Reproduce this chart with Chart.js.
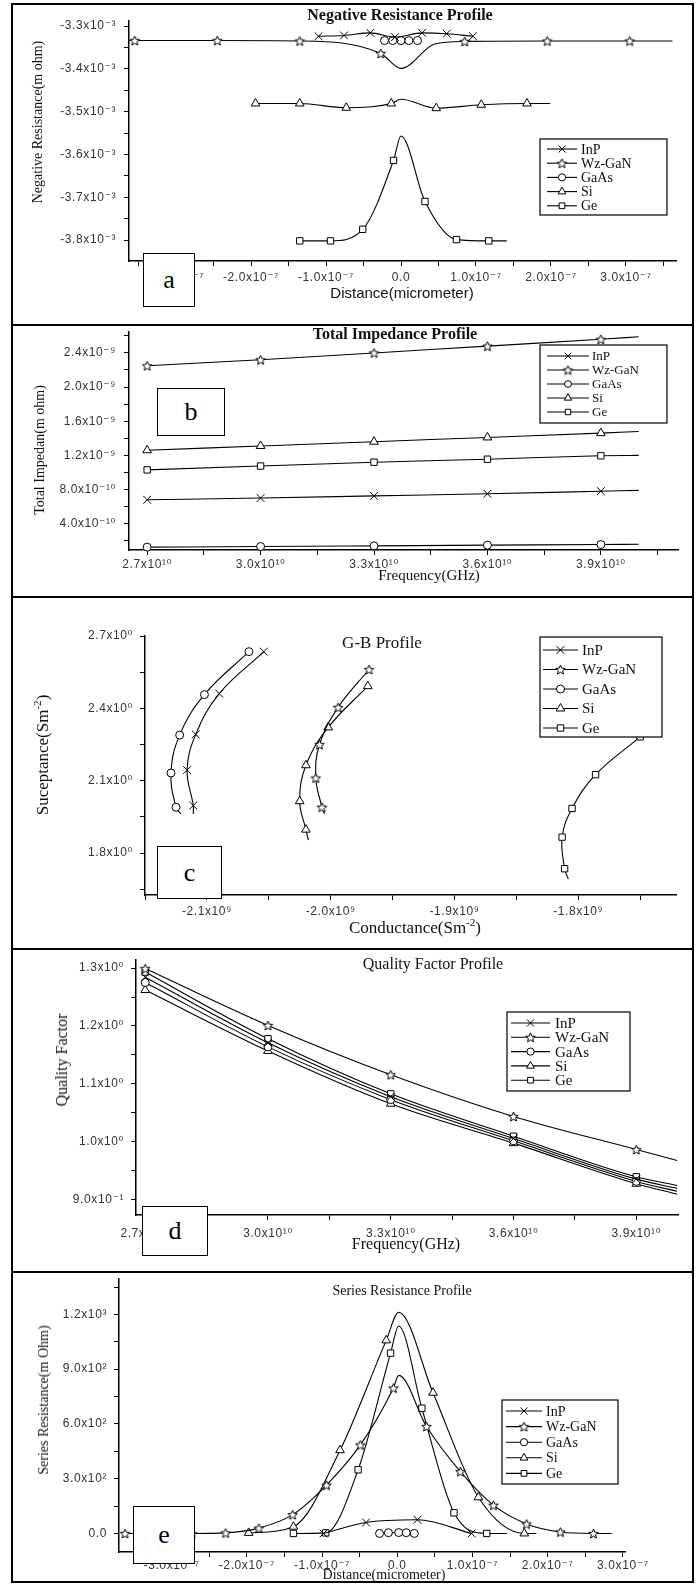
<!DOCTYPE html>
<html><head><meta charset="utf-8">
<script src="https://cdn.jsdelivr.net/npm/chart.js@4.4.1/dist/chart.umd.min.js"></script>
<style>
body{margin:0;background:#fff;}
#wrap{position:relative;width:696px;height:1585px;overflow:hidden;background:#fff;}
canvas{position:absolute;left:0;z-index:1;}
.ln{position:absolute;background:#000;z-index:5;}
.t{position:absolute;font-family:"Liberation Serif","Times New Roman",serif;color:#111;white-space:nowrap;transform:translate(-50%,-50%);z-index:4;line-height:1;}
.t sup{font-size:65%;vertical-align:0.6em;line-height:0;}
.rot{transform:translate(-50%,-50%) rotate(-90deg);}
.sans{font-family:"Liberation Sans",Arial,sans-serif;}
.box{position:absolute;background:#fff;border:1.5px solid #000;box-sizing:border-box;font-family:"Liberation Serif","Times New Roman",serif;font-size:26px;display:flex;align-items:center;justify-content:center;z-index:6;color:#000;}
</style></head>
<body>
<div id="wrap">
<canvas id="ca" width="696" height="325" style="top:0px"></canvas>
<canvas id="cb" width="696" height="272" style="top:325px"></canvas>
<canvas id="cc" width="696" height="352" style="top:597px"></canvas>
<canvas id="cd" width="696" height="323" style="top:949px"></canvas>
<canvas id="ce" width="696" height="313" style="top:1272px"></canvas>

<div class="ln" style="left:11px;top:3px;width:683px;height:2px"></div>
<div class="ln" style="left:11px;top:324px;width:683px;height:2px"></div>
<div class="ln" style="left:11px;top:596px;width:683px;height:2px"></div>
<div class="ln" style="left:11px;top:948px;width:683px;height:2px"></div>
<div class="ln" style="left:11px;top:1271px;width:683px;height:2px"></div>
<div class="ln" style="left:11px;top:1581px;width:683px;height:2px"></div>
<div class="ln" style="left:11px;top:3px;width:2px;height:1580px"></div>
<div class="ln" style="left:692px;top:3px;width:2px;height:1580px"></div>

<div class="t" style="left:400px;top:15px;font-size:16px;font-weight:bold">Negative Resistance Profile</div>
<div class="t sans" style="left:402px;top:292px;font-size:15px">Distance(micrometer)</div>
<div class="t rot" style="left:38px;top:122px;font-size:14px">Negative Resistance(m ohm)</div>

<div class="t" style="left:395px;top:334px;font-size:16px;font-weight:bold">Total Impedance Profile</div>
<div class="t" style="left:429px;top:575px;font-size:15px">Frequency(GHz)</div>
<div class="t rot" style="left:40px;top:450px;font-size:14px">Total Impedan(m ohm)</div>

<div class="t" style="left:382px;top:642px;font-size:17px">G-B Profile</div>
<div class="t" style="left:415px;top:927px;font-size:17px">Conductance(Sm<sup>-2</sup>)</div>
<div class="t rot" style="left:42px;top:755px;font-size:17px">Suceptance(Sm<sup>-2</sup>)</div>

<div class="t" style="left:433px;top:964px;font-size:16px">Quality Factor Profile</div>
<div class="t" style="left:406px;top:1244px;font-size:16px">Frequency(GHz)</div>
<div class="t rot" style="left:62px;top:1060px;font-size:16px">Quality Factor</div>

<div class="t" style="left:402px;top:1291px;font-size:14px">Series Resistance Profile</div>
<div class="t" style="left:384px;top:1575px;font-size:14px">Distance(micrometer)</div>
<div class="t rot" style="left:44px;top:1400px;font-size:14px">Series Resistance(m Ohm)</div>

<div class="box" style="left:143px;top:253px;width:52px;height:54px">a</div>
<div class="box" style="left:157px;top:388px;width:68px;height:48px">b</div>
<div class="box" style="left:157px;top:846px;width:65px;height:53px">c</div>
<div class="box" style="left:142px;top:1206px;width:66px;height:50px">d</div>
<div class="box" style="left:133px;top:1506px;width:62px;height:58px">e</div>
</div>

<script>
// ---------- series names ----------
const SERIES = ['InP', 'Wz-GaN', 'GaAs', 'Si', 'Ge'];

// ---------- (a) Negative Resistance Profile ----------
const aInP_x  = [-1.10e-7, -0.76e-7, -0.41e-7, -0.08e-7, 0.28e-7, 0.61e-7, 0.96e-7];
const aInP_y  = [-3.324e-3, -3.322e-3, -3.316e-3, -3.326e-3, -3.316e-3, -3.318e-3, -3.324e-3];
const aWz_x   = [-3.62e-7, -3.55e-7, -2.45e-7, -1.35e-7, -0.27e-7, 0, 0.45e-7, 0.85e-7, 1.95e-7, 3.05e-7, 3.62e-7];
const aWz_y   = [-3.334e-3, -3.334e-3, -3.334e-3, -3.335e-3, -3.364e-3, -3.399e-3, -3.342e-3, -3.336e-3, -3.335e-3, -3.335e-3, -3.335e-3];
const aWz_plain = [0, 5, 6, 10];
const aGaAs_x = [-0.22e-7, -0.11e-7, 0, 0.105e-7, 0.22e-7];
const aGaAs_y = [-3.334e-3, -3.334e-3, -3.334e-3, -3.334e-3, -3.334e-3];
const aSi_x   = [-1.94e-7, -1.35e-7, -0.73e-7, -0.13e-7, 0, 0.47e-7, 1.07e-7, 1.68e-7, 1.99e-7];
const aSi_y   = [-3.481e-3, -3.481e-3, -3.491e-3, -3.481e-3, -3.471e-3, -3.492e-3, -3.484e-3, -3.481e-3, -3.481e-3];
const aSi_plain = [4, 8];
const aGe_x   = [-1.35e-7, -0.94e-7, -0.51e-7, -0.10e-7, 0, 0.32e-7, 0.74e-7, 1.17e-7, 1.41e-7];
const aGe_y   = [-3.802e-3, -3.802e-3, -3.775e-3, -3.614e-3, -3.557e-3, -3.710e-3, -3.799e-3, -3.802e-3, -3.802e-3];
const aGe_plain = [4, 8];
const aXMajor  = [-3e-7, -2e-7, -1e-7, 0, 1e-7, 2e-7, 3e-7];
const aXLabels = ['-3.0x10⁻⁷', '-2.0x10⁻⁷', '-1.0x10⁻⁷', '0.0', '1.0x10⁻⁷', '2.0x10⁻⁷', '3.0x10⁻⁷'];
const aXMinor  = [-3.5e-7, -2.5e-7, -1.5e-7, -0.5e-7, 0.5e-7, 1.5e-7, 2.5e-7, 3.5e-7];
const aYMajor  = [-3.8e-3, -3.7e-3, -3.6e-3, -3.5e-3, -3.4e-3, -3.3e-3];
const aYLabels = ['-3.8x10⁻³', '-3.7x10⁻³', '-3.6x10⁻³', '-3.5x10⁻³', '-3.4x10⁻³', '-3.3x10⁻³'];
const aYMinor  = [-3.75e-3, -3.65e-3, -3.55e-3, -3.45e-3, -3.35e-3];

// ---------- (b) Total Impedance Profile ----------
const bFreq = [2.7e10, 3.0e10, 3.3e10, 3.6e10, 3.9e10, 4.0e10];
const bInP  = [6.8e-10, 7.0e-10, 7.25e-10, 7.5e-10, 7.8e-10, 7.9e-10];
const bWz   = [2.25e-9, 2.32e-9, 2.40e-9, 2.48e-9, 2.56e-9, 2.59e-9];
const bGaAs = [1.25e-10, 1.32e-10, 1.40e-10, 1.48e-10, 1.55e-10, 1.58e-10];
const bSi   = [1.26e-9, 1.31e-9, 1.36e-9, 1.41e-9, 1.46e-9, 1.48e-9];
const bGe   = [1.03e-9, 1.075e-9, 1.12e-9, 1.155e-9, 1.195e-9, 1.20e-9];
const bPlain = [5];
const bXMajor  = [2.7e10, 3.0e10, 3.3e10, 3.6e10, 3.9e10];
const bXLabels = ['2.7x10¹⁰', '3.0x10¹⁰', '3.3x10¹⁰', '3.6x10¹⁰', '3.9x10¹⁰'];
const bXMinor  = [2.85e10, 3.15e10, 3.45e10, 3.75e10, 4.05e10];
const bYMajor  = [4e-10, 8e-10, 1.2e-9, 1.6e-9, 2.0e-9, 2.4e-9];
const bYLabels = ['4.0x10⁻¹⁰', '8.0x10⁻¹⁰', '1.2x10⁻⁹', '1.6x10⁻⁹', '2.0x10⁻⁹', '2.4x10⁻⁹'];
const bYMinor  = [2e-10, 6e-10, 1.0e-9, 1.4e-9, 1.8e-9, 2.2e-9, 2.6e-9];

// ---------- (c) G-B Profile ----------
const cInP_G  = [-2.054e9, -2.090e9, -2.109e9, -2.116e9, -2.111e9, -2.111e9];
const cInP_B  = [2.635, 2.461, 2.292, 2.144, 1.997, 1.962];
const cWz_G   = [-1.969e9, -1.994e9, -2.009e9, -2.012e9, -2.007e9, -2.005e9];
const cWz_B   = [2.561, 2.404, 2.250, 2.111, 1.990, 1.962];
const cGaAs_G = [-2.066e9, -2.102e9, -2.122e9, -2.129e9, -2.125e9, -2.121e9];
const cGaAs_B = [2.635, 2.457, 2.289, 2.132, 1.990, 1.962];
const cSi_G   = [-1.970e9, -2.002e9, -2.020e9, -2.025e9, -2.020e9, -2.018e9];
const cSi_B   = [2.492, 2.321, 2.164, 2.015, 1.897, 1.854];
const cGe_G   = [-1.750e9, -1.786e9, -1.805e9, -1.813e9, -1.811e9, -1.808e9];
const cGe_B   = [2.282, 2.125, 1.985, 1.866, 1.735, 1.692];
const cPlain = [5];
const cXMajor  = [-2.1e9, -2.0e9, -1.9e9, -1.8e9];
const cXLabels = ['-2.1x10⁹', '-2.0x10⁹', '-1.9x10⁹', '-1.8x10⁹'];
const cXMinor  = [-2.15e9, -2.05e9, -1.95e9, -1.85e9, -1.75e9];
const cYMajor  = [1.8, 2.1, 2.4, 2.7];
const cYLabels = ['1.8x10⁰', '2.1x10⁰', '2.4x10⁰', '2.7x10⁰'];
const cYMinor  = [1.65, 1.95, 2.25, 2.55];

// ---------- (d) Quality Factor Profile ----------
const dFreq = [2.7e10, 3.0e10, 3.3e10, 3.6e10, 3.9e10, 4.0e10];
const dInP  = [1.284, 1.171, 1.078, 1.006, 0.936, 0.920];
const dWz   = [1.299, 1.201, 1.116, 1.044, 0.987, 0.968];
const dGaAs = [1.275, 1.164, 1.073, 1.002, 0.932, 0.915];
const dSi   = [1.262, 1.157, 1.066, 0.998, 0.928, 0.910];
const dGe   = [1.293, 1.178, 1.083, 1.010, 0.940, 0.925];
const dPlain = [5];
const dXMajor  = [2.7e10, 3.0e10, 3.3e10, 3.6e10, 3.9e10];
const dXLabels = ['2.7x10¹⁰', '3.0x10¹⁰', '3.3x10¹⁰', '3.6x10¹⁰', '3.9x10¹⁰'];
const dXMinor  = [2.85e10, 3.15e10, 3.45e10, 3.75e10];
const dYMajor  = [0.9, 1.0, 1.1, 1.2, 1.3];
const dYLabels = ['9.0x10⁻¹', '1.0x10⁰', '1.1x10⁰', '1.2x10⁰', '1.3x10⁰'];
const dYMinor  = [0.95, 1.05, 1.15, 1.25];

// ---------- (e) Series Resistance Profile ----------
const eInP_x  = [-0.98e-7, -0.415e-7, 0.269e-7, 0.99e-7];
const eInP_y  = [0, 60, 75, 0];
const eWz_x   = [-3.62e-7, -3.17e-7, -2.73e-7, -2.28e-7, -1.84e-7, -1.39e-7, -0.94e-7, -0.49e-7, -0.05e-7, 0.02e-7, 0.39e-7, 0.84e-7, 1.28e-7, 1.72e-7, 2.17e-7, 2.61e-7, 2.85e-7];
const eWz_y   = [0, 0, 0, 3, 29, 103, 265, 485, 797, 866, 586, 339, 155, 52, 8, 0, 0];
const eWz_plain = [9, 16];
const eGaAs_x = [-0.235e-7, -0.117e-7, 0.02e-7, 0.12e-7, 0.227e-7];
const eGaAs_y = [0, 4, 5, 4, 0];
const eSi_x   = [-1.975e-7, -1.38e-7, -0.76e-7, -0.146e-7, 0.02e-7, 0.476e-7, 1.08e-7, 1.69e-7, 1.85e-7];
const eSi_y   = [3, 37, 456, 1058, 1212, 771, 198, 0, 0];
const eSi_plain = [4, 8];
const eGe_x   = [-1.38e-7, -0.95e-7, -0.52e-7, -0.088e-7, 0.02e-7, 0.328e-7, 0.755e-7, 1.19e-7, 1.46e-7];
const eGe_y   = [0, 3, 349, 988, 1137, 686, 113, 0, 0];
const eGe_plain = [4, 8];
const eXMajor  = [-3e-7, -2e-7, -1e-7, 0, 1e-7, 2e-7, 3e-7];
const eXLabels = ['-3.0x10⁻⁷', '-2.0x10⁻⁷', '-1.0x10⁻⁷', '0.0', '1.0x10⁻⁷', '2.0x10⁻⁷', '3.0x10⁻⁷'];
const eXMinor  = [-3.5e-7, -2.5e-7, -1.5e-7, -0.5e-7, 0.5e-7, 1.5e-7, 2.5e-7];
const eYMajor  = [0, 300, 600, 900, 1200];
const eYLabels = ['0.0', '3.0x10²', '6.0x10²', '9.0x10²', '1.2x10³'];
const eYMinor  = [150, 450, 750, 1050, 1350];

// ---------- drawing helpers ----------
const TICKFONT = '"Liberation Sans","DejaVu Sans",Arial,sans-serif';
const SERIF = '"Liberation Serif","Times New Roman",serif';

function starImg(r) {
  const s = Math.ceil(r * 2 + 3);
  const c = document.createElement('canvas');
  c.width = s; c.height = s;
  const g = c.getContext('2d');
  g.translate(s / 2, s / 2 + 0.5);
  g.beginPath();
  for (let i = 0; i < 10; i++) {
    const rr = i % 2 ? r * 0.45 : r;
    const a = -Math.PI / 2 + i * Math.PI / 5;
    g.lineTo(rr * Math.cos(a), rr * Math.sin(a));
  }
  g.closePath();
  g.fillStyle = '#fff'; g.fill();
  g.lineWidth = 1; g.strokeStyle = '#000'; g.stroke();
  return c;
}
const STAR = starImg(5);
const MARK = {
  'InP':    { ps: 'crossRot', r: 5.5 },
  'Wz-GaN': { ps: STAR, r: 5 },
  'GaAs':   { ps: 'circle', r: 4 },
  'Si':     { ps: 'triangle', r: 5 },
  'Ge':     { ps: 'rect', r: 4.5 }
};

function ds(name, xs, ys, plain, mode) {
  const m = MARK[name];
  const skip = plain || [];
  return {
    label: name,
    data: xs.map((x, i) => ({ x: x, y: ys[i] })),
    showLine: true, borderColor: '#000', borderWidth: 1.1, fill: false,
    pointStyle: m.ps,
    pointRadius: (c) => skip.includes(c.dataIndex) ? 0 : m.r,
    pointHoverRadius: (c) => skip.includes(c.dataIndex) ? 0 : m.r,
    pointBorderColor: '#000', pointBackgroundColor: '#fff', pointBorderWidth: 1,
    cubicInterpolationMode: mode === 'mono' ? 'monotone' : 'default',
    tension: 0.4,
    clip: 4
  };
}

function axis(min, max, majors, labels, minors, fitFn, pad, fsize) {
  const tol = Math.abs(max - min) * 1e-6;
  const all = majors.concat(minors).filter(v => v >= min - tol && v <= max + tol).sort((a, b) => a - b);
  return {
    type: 'linear', min: min, max: max,
    afterBuildTicks: (s) => { s.ticks = all.map(v => ({ value: v })); },
    afterFit: (s) => { fitFn(s); s.paddingTop = 0; s.paddingBottom = 0; s.paddingLeft = 0; s.paddingRight = 0; },
    grid: { drawOnChartArea: false, drawTicks: true, tickLength: 5, color: '#000', lineWidth: 1 },
    border: { display: true, color: '#000', width: 1.5 },
    ticks: {
      autoSkip: false, maxRotation: 0, minRotation: 0, padding: pad, color: '#333',
      font: { family: TICKFONT, size: fsize },
      callback: (v) => {
        const i = majors.findIndex(mj => Math.abs(mj - v) <= tol);
        return i >= 0 ? labels[i] : '';
      }
    }
  };
}

const spacingPlugin = {
  id: 'tickSpacing',
  beforeDraw(chart) { if ('letterSpacing' in chart.ctx) chart.ctx.letterSpacing = '0.6px'; },
  afterDatasetsDraw(chart) { if ('letterSpacing' in chart.ctx) chart.ctx.letterSpacing = '0px'; }
};

function legendPlugin(L, top) {
  return {
    id: 'customLegend',
    afterDraw(chart) {
      const ctx = chart.ctx;
      ctx.save();
      if ('letterSpacing' in ctx) ctx.letterSpacing = '0px';
      ctx.fillStyle = '#fff';
      ctx.fillRect(L.x, L.y - top, L.w, L.h);
      ctx.lineWidth = 1.2; ctx.strokeStyle = '#000';
      ctx.strokeRect(L.x, L.y - top, L.w, L.h);
      SERIES.forEach((name, i) => {
        const y = L.y0 - top + i * L.dy;
        ctx.beginPath(); ctx.lineWidth = 1.1; ctx.strokeStyle = '#000';
        ctx.moveTo(L.lx1, y); ctx.lineTo(L.lx2, y); ctx.stroke();
        const m = MARK[name];
        ctx.fillStyle = '#fff'; ctx.strokeStyle = '#000'; ctx.lineWidth = 1;
        Chart.helpers.drawPoint(ctx, { pointStyle: m.ps, radius: m.r * L.ms, borderWidth: 1, rotation: 0 }, (L.lx1 + L.lx2) / 2, y);
        ctx.fillStyle = '#111';
        ctx.font = L.fs + 'px ' + SERIF;
        ctx.textBaseline = 'middle'; ctx.textAlign = 'left';
        ctx.fillText(name, L.tx, y + 1);
      });
      ctx.restore();
    }
  };
}

function make(id, P) {
  const cv = document.getElementById(id);
  const H = cv.height, top = P.top, A = P.area;
  return new Chart(cv, {
    type: 'scatter',
    data: { datasets: P.datasets },
    options: {
      responsive: false, animation: false, events: [], devicePixelRatio: 1,
      layout: { padding: { left: 0, top: A.t - top, right: 696 - A.r, bottom: 0 } },
      plugins: { legend: { display: false }, title: { display: false }, tooltip: { enabled: false } },
      scales: {
        x: axis(P.x.min, P.x.max, P.x.major, P.x.labels, P.x.minor, s => { s.height = H - (A.b - top); }, P.x.pad, P.x.fs),
        y: axis(P.y.min, P.y.max, P.y.major, P.y.labels, P.y.minor, s => { s.width = A.l; }, P.y.pad, P.y.fs)
      }
    },
    plugins: [spacingPlugin, legendPlugin(P.legend, top)]
  });
}

// ---------- panel a ----------
make('ca', {
  top: 0, area: { l: 129, r: 676, t: 21, b: 261 },
  x: { min: -3.627e-7, max: 3.667e-7, major: aXMajor, labels: aXLabels, minor: aXMinor, pad: 4, fs: 12 },
  y: { min: -3.849e-3, max: -3.2883e-3, major: aYMajor, labels: aYLabels, minor: aYMinor, pad: 8, fs: 12 },
  datasets: [
    ds('InP', aInP_x, aInP_y, [], 'mono'),
    ds('Wz-GaN', aWz_x, aWz_y, aWz_plain, 'mono'),
    ds('GaAs', aGaAs_x, aGaAs_y, [], 'mono'),
    ds('Si', aSi_x, aSi_y, aSi_plain, 'mono'),
    ds('Ge', aGe_x, aGe_y, aGe_plain, 'mono')
  ],
  legend: { x: 540, y: 139, w: 127, h: 76, y0: 149, dy: 14.2, lx1: 547, lx2: 577, tx: 581, fs: 14, ms: 0.9 }
});

// ---------- panel b ----------
make('cb', {
  top: 325, area: { l: 129, r: 678, t: 326, b: 550 },
  x: { min: 2.652e10, max: 4.104e10, major: bXMajor, labels: bXLabels, minor: bXMinor, pad: 2, fs: 12 },
  y: { min: 0.0914e-9, max: 2.651e-9, major: bYMajor, labels: bYLabels, minor: bYMinor, pad: 8, fs: 12 },
  datasets: [
    ds('InP', bFreq, bInP, bPlain, 'mono'),
    ds('Wz-GaN', bFreq, bWz, bPlain, 'mono'),
    ds('GaAs', bFreq, bGaAs, bPlain, 'mono'),
    ds('Si', bFreq, bSi, bPlain, 'mono'),
    ds('Ge', bFreq, bGe, bPlain, 'mono')
  ],
  legend: { x: 540, y: 345, w: 127, h: 78, y0: 356, dy: 14, lx1: 547, lx2: 589, tx: 592, fs: 13, ms: 0.85 }
});

// ---------- panel c ----------
make('cc', {
  top: 597, area: { l: 145, r: 676, t: 636, b: 895 },
  x: { min: -2.15e9, max: -1.721e9, major: cXMajor, labels: cXLabels, minor: cXMinor, pad: 4, fs: 12 },
  y: { min: 1.626, max: 2.7, major: cYMajor, labels: cYLabels, minor: cYMinor, pad: 7, fs: 12 },
  datasets: [
    ds('InP', cInP_G, cInP_B, cPlain, 'curve'),
    ds('Wz-GaN', cWz_G, cWz_B, cPlain, 'curve'),
    ds('GaAs', cGaAs_G, cGaAs_B, cPlain, 'curve'),
    ds('Si', cSi_G, cSi_B, cPlain, 'curve'),
    ds('Ge', cGe_G, cGe_B, cPlain, 'curve')
  ],
  legend: { x: 540, y: 637, w: 122, h: 100, y0: 650, dy: 19.5, lx1: 543, lx2: 578, tx: 582, fs: 15, ms: 1 }
});

// ---------- panel d ----------
make('cd', {
  top: 949, area: { l: 136, r: 678, t: 960, b: 1215 },
  x: { min: 2.6775e10, max: 4.002e10, major: dXMajor, labels: dXLabels, minor: dXMinor, pad: 6, fs: 12 },
  y: { min: 0.8741, max: 1.3138, major: dYMajor, labels: dYLabels, minor: dYMinor, pad: 7, fs: 12 },
  datasets: [
    ds('InP', dFreq, dInP, dPlain, 'mono'),
    ds('Wz-GaN', dFreq, dWz, dPlain, 'mono'),
    ds('GaAs', dFreq, dGaAs, dPlain, 'mono'),
    ds('Si', dFreq, dSi, dPlain, 'mono'),
    ds('Ge', dFreq, dGe, dPlain, 'mono')
  ],
  legend: { x: 507, y: 1012, w: 123, h: 79, y0: 1023, dy: 14.3, lx1: 511, lx2: 550, tx: 555, fs: 15, ms: 0.9 }
});

// ---------- panel e ----------
make('ce', {
  top: 1272, area: { l: 119, r: 625, t: 1278, b: 1552 },
  x: { min: -3.6995e-7, max: 3.029e-7, major: eXMajor, labels: eXLabels, minor: eXMinor, pad: 1, fs: 12 },
  y: { min: -101.7, max: 1396.9, major: eYMajor, labels: eYLabels, minor: eYMinor, pad: 7, fs: 12 },
  datasets: [
    ds('InP', eInP_x, eInP_y, [], 'mono'),
    ds('Wz-GaN', eWz_x, eWz_y, eWz_plain, 'mono'),
    ds('GaAs', eGaAs_x, eGaAs_y, [], 'mono'),
    ds('Si', eSi_x, eSi_y, eSi_plain, 'mono'),
    ds('Ge', eGe_x, eGe_y, eGe_plain, 'mono')
  ],
  legend: { x: 502, y: 1400, w: 116, h: 84, y0: 1411, dy: 15.6, lx1: 506, lx2: 542, tx: 546, fs: 14, ms: 0.9 }
});
</script>
</body></html>
